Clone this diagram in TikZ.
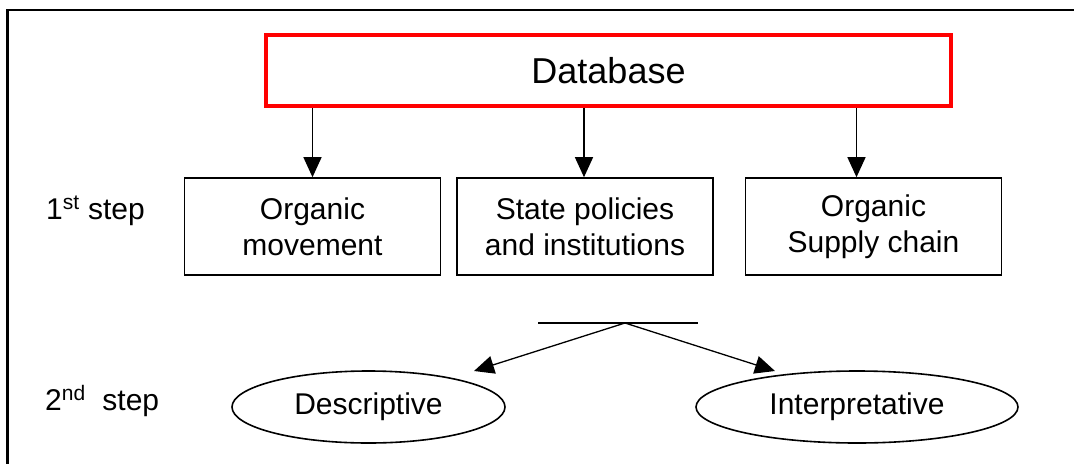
\documentclass[tikz,border=0pt]{standalone}
\usepackage{fontspec}
\setmainfont{Liberation Sans}
\usepackage{tikz}
\usetikzlibrary{arrows.meta,shapes.geometric}
\definecolor{dbred}{RGB}{255,0,0}

\tikzset{
  txt/.style={font=\fontsize{30}{36}\selectfont, align=center, inner sep=0pt},
  stepbox/.style={txt, draw, line width=1.6pt, minimum width=256pt, minimum height=97pt},
  result/.style={txt, draw, ellipse, line width=1.6pt, minimum height=72pt},
  arr/.style={line width=1.3pt, -{Triangle[length=20pt,width=18pt]}}
}

\begin{document}
\begin{tikzpicture}[x=1pt,y=-1pt]
\useasboundingbox (0,0) rectangle (1074,464);
% Draw the frame (only top and left edges show)
\draw[line width=2.5pt] (1074,10) -- (7.5,10) -- (7.5,464);
% Database box
\node[draw=dbred, line width=4.6pt, minimum width=685pt, minimum height=71pt,
      font=\fontsize{36}{40}\selectfont, inner sep=0pt] (db) at (608.5,70.5) {Database};
% First step boxes
\node[stepbox] (om) at (312.5,226.5) {Organic\\movement};
\node[stepbox] (sp) at (585,226.5) {State policies\\and institutions};
\node[stepbox] (sc) at (873.5,226.5) {Organic\\Supply chain};
% Arrows from the database
\draw[arr] (om.north |- db.south) -- (om.north);
\draw[arr] ([xshift=-1pt]sp.north |- db.south) -- ([xshift=-1pt]sp.north);
\draw[arr] ([xshift=-17pt]sc.north |- db.south) -- ([xshift=-17pt]sc.north);
% Step labels
\node[txt, anchor=base west] (s1) at (46,219) {1\textsuperscript{st} step};
\node[txt, anchor=base west] (s2) at (45,410) {2\textsuperscript{nd}\ \ step};
% Second step ellipses
\node[result, minimum width=273pt] (desc) at (368.5,407) {Descriptive};
\node[result, minimum width=322pt] (interp) at (857,407) {Interpretative};
% Split line and its arrows
\coordinate (split) at (625,323);
\coordinate (dtip) at (474,371);
\coordinate (itip) at (775,371);
\draw[line width=1.6pt] ([xshift=-87pt]split) -- ([xshift=73pt]split);
\draw[arr] (split) -- (dtip);
\draw[arr] (split) -- (itip);
\end{tikzpicture}
\end{document}
